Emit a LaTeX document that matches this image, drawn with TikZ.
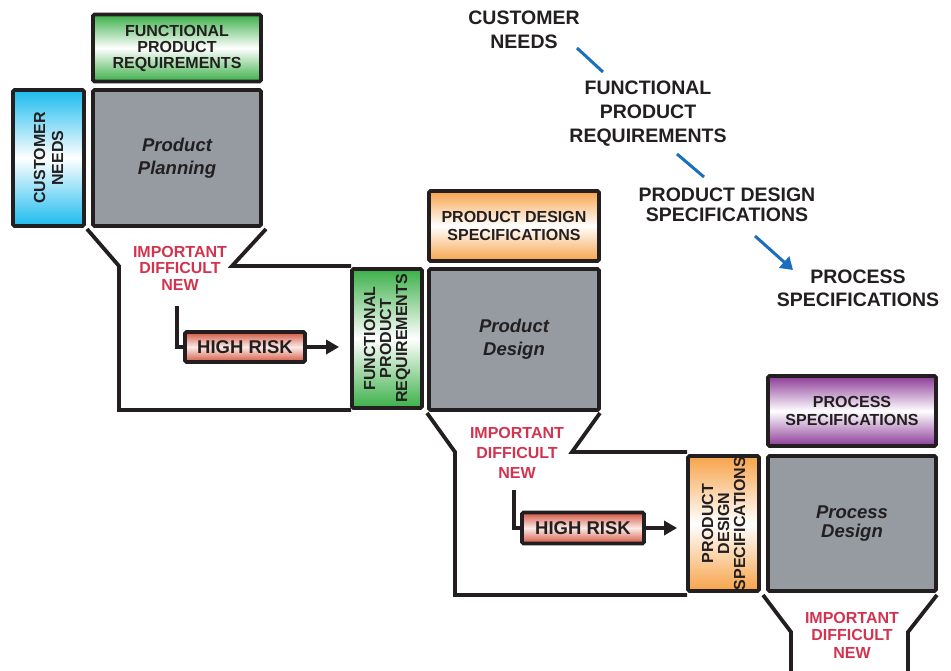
\documentclass[tikz,border=0pt]{standalone}
\usepackage{fontspec}
\setmainfont{Liberation Sans}
\usetikzlibrary{arrows.meta}
\definecolor{ink}{HTML}{231F20}
\definecolor{boxgray}{HTML}{969BA1}
\definecolor{cgreen}{HTML}{3BAF48}
\definecolor{ccyan}{HTML}{1BBBEE}
\definecolor{corange}{HTML}{F7A349}
\definecolor{cpurple}{HTML}{8B3A96}
\definecolor{crisk}{HTML}{D5553F}
\definecolor{riskred}{HTML}{D2344F}
\definecolor{arrowblue}{HTML}{1A6FBD}
\begin{document}
\begin{tikzpicture}[x=1pt,y=-1pt,
  box/.style={draw=ink, line width=3.8pt, rounded corners=1.5pt, inner sep=0pt, align=center, text=ink,
    font=\bfseries\fontsize{16}{16}\selectfont},
  gradbox/.style={box, top color=#1, bottom color=#1, middle color=white},
  graybox/.style={box, fill=boxgray, font=\bfseries\itshape\fontsize{18.5}{23}\selectfont},
  riskbox/.style={box, top color=crisk, bottom color=crisk, middle color=white!88!crisk,
    font=\bfseries\fontsize{18.5}{18.5}\selectfont},
  redtxt/.style={text=riskred, align=center, inner sep=0pt},
  freetxt/.style={text=ink, align=center, inner sep=0pt},
  funnel/.style={draw=ink, line width=3.8pt, line join=miter},
  conn/.style={draw=ink, line width=3.5pt},
  bluearrow/.style={draw=arrowblue, line width=3pt}
]
\useasboundingbox (0,0) rectangle (951,670);

% funnels
\draw[funnel] (87,229) -- (119,266) -- (119,410) -- (351,410);
\draw[funnel] (266,229) -- (232,266) -- (351,266);
\draw[funnel] (427,413) -- (455,452) -- (455,595) -- (687,595);
\draw[funnel] (600,413) -- (572,452) -- (687,452);
\draw[funnel] (763,595) -- (791,632) -- (791,675);
\draw[funnel] (937,595) -- (908,632) -- (908,675);

% stage 1
\node[gradbox=cgreen, minimum width=168, minimum height=67] (fprtop) at (177,48)
  {FUNCTIONAL\\PRODUCT\\REQUIREMENTS};
\node[gradbox=ccyan, rotate=90, minimum width=136, minimum height=71,
  font=\bfseries\fontsize{16}{18}\selectfont] (cn) at (48.5,158) {CUSTOMER\\NEEDS};
\node[graybox, minimum width=168, minimum height=136] (pp) at (177,158) {Product\\Planning};
\node[redtxt, font=\bfseries\fontsize{16}{16.5}\selectfont] (r1) at (180,268) {IMPORTANT\\DIFFICULT\\NEW};
\node[riskbox, minimum width=120, minimum height=30] (hr1) at (245,347) {HIGH RISK};
\node[gradbox=cgreen, rotate=90, minimum width=139, minimum height=70] (fprv) at (387,338.5)
  {FUNCTIONAL\\PRODUCT\\REQUIREMENTS};
\coordinate (l1s) at (177,306);
\draw[conn] (l1s) |- (hr1.west);
\draw[conn, -{Triangle[length=13pt,width=14pt]}, shorten >=11pt] (hr1.east) -- (hr1.east -| fprv.north);

% stage 2
\node[gradbox=corange, minimum width=170, minimum height=70,
  font=\bfseries\fontsize{16}{18}\selectfont] (pdstop) at (514,226) {PRODUCT DESIGN\\SPECIFICATIONS};
\node[graybox, minimum width=170, minimum height=141] (pd) at (514,339.5) {Product\\Design};
\node[redtxt, font=\bfseries\fontsize{16}{20}\selectfont] (r2) at (517,453) {IMPORTANT\\DIFFICULT\\NEW};
\node[riskbox, minimum width=122, minimum height=31] (hr2) at (583,528) {HIGH RISK};
\node[gradbox=corange, rotate=90, minimum width=135, minimum height=71] (pdsv) at (723.5,523.5)
  {PRODUCT\\DESIGN\\SPECIFICATIONS};
\coordinate (l2s) at (514,490);
\draw[conn] (l2s) |- (hr2.west);
\draw[conn, -{Triangle[length=13pt,width=14pt]}, shorten >=9pt] (hr2.east) -- (hr2.east -| pdsv.north);

% stage 3
\node[gradbox=cpurple, minimum width=168, minimum height=70,
  font=\bfseries\fontsize{16}{18}\selectfont] (pstop) at (852,411) {PROCESS\\SPECIFICATIONS};
\node[graybox, minimum width=168, minimum height=135, font=\bfseries\itshape\fontsize{18.5}{19}\selectfont]
  (psd) at (852,523.5) {Process\\Design};
\node[redtxt, font=\bfseries\fontsize{16}{17.5}\selectfont] (r3) at (852,635) {IMPORTANT\\DIFFICULT\\NEW};

% flow summary
\node[freetxt, font=\bfseries\fontsize{19.5}{24}\selectfont] (t1) at (524,30) {CUSTOMER\\NEEDS};
\node[freetxt, font=\bfseries\fontsize{19.5}{24}\selectfont] (t2) at (648,114) {FUNCTIONAL\\PRODUCT\\REQUIREMENTS};
\node[freetxt, font=\bfseries\fontsize{19.5}{20}\selectfont] (t3) at (727,205) {PRODUCT DESIGN\\SPECIFICATIONS};
\node[freetxt, font=\bfseries\fontsize{19.5}{23}\selectfont] (t4) at (858,288) {PROCESS\\SPECIFICATIONS};
\coordinate (b1s) at (577,48);
\coordinate (b1e) at (603,72);
\coordinate (b2s) at (677,154);
\coordinate (b2e) at (704,177);
\coordinate (b3s) at (755,236);
\coordinate (b3e) at (793,270);
\draw[bluearrow] (b1s) -- (b1e);
\draw[bluearrow] (b2s) -- (b2e);
\draw[bluearrow, -{Triangle[length=12pt,width=15pt]}] (b3s) -- (b3e);
\end{tikzpicture}
\end{document}
